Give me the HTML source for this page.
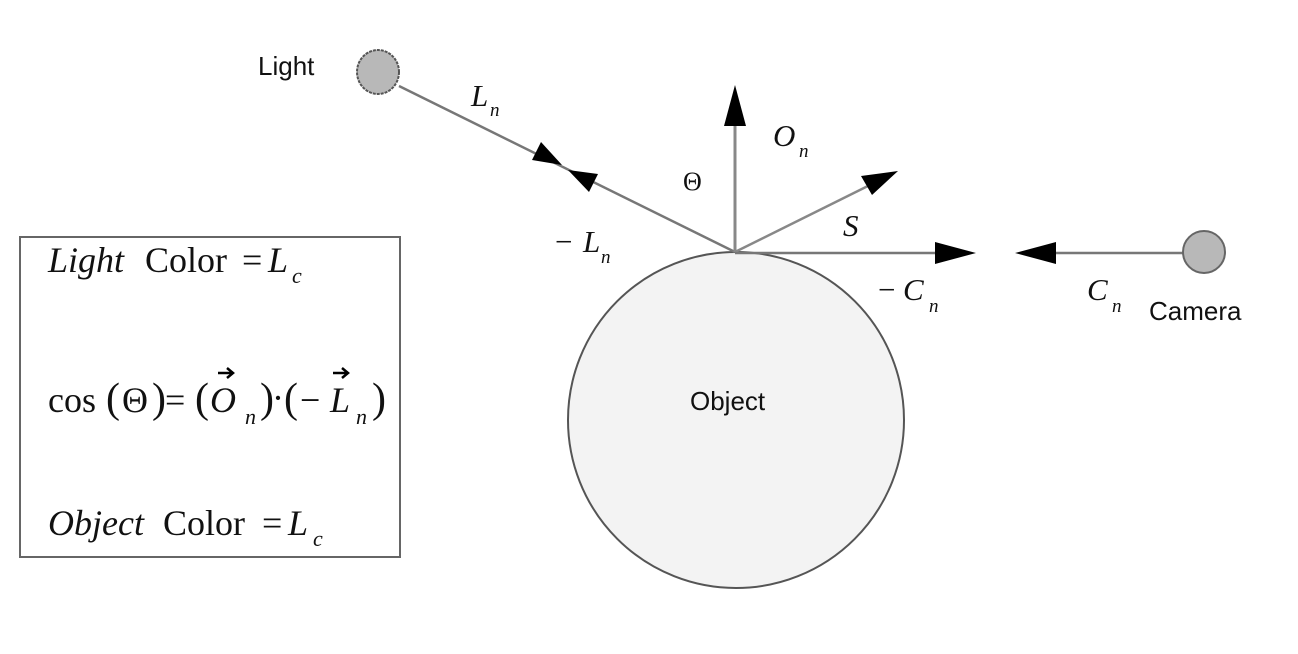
<!DOCTYPE html>
<html><head><meta charset="utf-8"><style>
body{margin:0;background:#fff;}
svg{display:block}
.s{font-family:"Liberation Sans",sans-serif;font-size:26px;fill:#111}
.m{font-family:"Liberation Serif",serif;font-size:31px;fill:#111}
.b{font-family:"Liberation Serif",serif;font-size:36px;fill:#111}
.sub{font-family:"Liberation Serif",serif;font-style:italic;font-size:19px;fill:#111}
.i{font-style:italic}
</style></head><body>
<svg width="1298" height="654" viewBox="0 0 1298 654" xmlns="http://www.w3.org/2000/svg">
<rect width="1298" height="654" fill="#fff"/>
<circle cx="736" cy="420" r="168" fill="#f3f3f3" stroke="#555" stroke-width="2"/>
<text class="s" x="690" y="410">Object</text>
<ellipse cx="378" cy="72" rx="21" ry="22" fill="#b8b8b8" stroke="#555" stroke-width="2" stroke-dasharray="3,1"/>
<text class="s" x="258" y="75">Light</text>
<line x1="399" y1="86" x2="735" y2="252" stroke="#777" stroke-width="2.5"/>
<polygon points="562,165 532,160 541,142" fill="#000"/>
<polygon points="568,170 598,174 589,192" fill="#000"/>
<line x1="735" y1="252" x2="735" y2="110" stroke="#888" stroke-width="3"/>
<polygon points="735,85 724,126 746,126" fill="#000"/>
<line x1="735" y1="252" x2="880" y2="180" stroke="#888" stroke-width="2.5"/>
<polygon points="898,171 861,176 872,195" fill="#000"/>
<line x1="735" y1="253" x2="945" y2="253" stroke="#777" stroke-width="2.5"/>
<polygon points="976,253 935,242 935,264" fill="#000"/>
<line x1="1045" y1="253" x2="1185" y2="253" stroke="#777" stroke-width="2.5"/>
<polygon points="1015,253 1056,242 1056,264" fill="#000"/>
<circle cx="1204" cy="252" r="21" fill="#b8b8b8" stroke="#666" stroke-width="2"/>
<text class="s" x="1149" y="320">Camera</text>
<text class="m i" x="471" y="106">L</text><text class="sub" x="490" y="116">n</text>
<text class="m i" x="773" y="146">O</text><text class="sub" x="799" y="157">n</text>
<text class="m" x="683" y="190" style="font-size:26px">Θ</text>
<text class="m i" x="843" y="236">S</text>
<text class="m" x="555" y="252">−</text><text class="m i" x="583" y="252">L</text><text class="sub" x="601" y="263">n</text>
<text class="m" x="878" y="300">−</text><text class="m i" x="903" y="300">C</text><text class="sub" x="929" y="312">n</text>
<text class="m i" x="1087" y="300">C</text><text class="sub" x="1112" y="312">n</text>
<rect x="20" y="237" width="380" height="320" fill="#fff" stroke="#666" stroke-width="2"/>
<!-- line 1 -->
<text class="b i" x="48" y="272">Light</text>
<text class="b" x="145" y="272">Color</text>
<text class="b" x="242" y="272">=</text>
<text class="b i" x="268" y="272">L</text>
<text class="sub" x="292" y="283" style="font-size:22px">c</text>
<!-- formula -->
<text class="b" x="48" y="412">cos</text>
<text class="b" x="106" y="412" style="font-size:42px">(</text>
<text class="b" x="122" y="412">Θ</text>
<text class="b" x="152" y="412" style="font-size:42px">)</text>
<text class="b" x="165" y="412">=</text>
<text class="b" x="195" y="412" style="font-size:42px">(</text>
<text class="b i" x="210" y="412">O</text>
<text class="sub" x="245" y="424" style="font-size:22px">n</text>
<text class="b" x="260" y="412" style="font-size:42px">)</text>
<text class="b" x="272" y="410">·</text>
<text class="b" x="284" y="412" style="font-size:42px">(</text>
<text class="b" x="300" y="412">−</text>
<text class="b i" x="330" y="412">L</text>
<text class="sub" x="356" y="424" style="font-size:22px">n</text>
<text class="b" x="372" y="412" style="font-size:42px">)</text>
<path d="M218 373 H232 M227 368 L233 373 L227 378" stroke="#000" stroke-width="2.5" fill="none"/>
<path d="M333 373 H347 M342 368 L348 373 L342 378" stroke="#000" stroke-width="2.5" fill="none"/>
<!-- line 3 -->
<text class="b i" x="48" y="535">Object</text>
<text class="b" x="163" y="535">Color</text>
<text class="b" x="262" y="535">=</text>
<text class="b i" x="288" y="535">L</text>
<text class="sub" x="313" y="546" style="font-size:22px">c</text>
</svg>
</body></html>
